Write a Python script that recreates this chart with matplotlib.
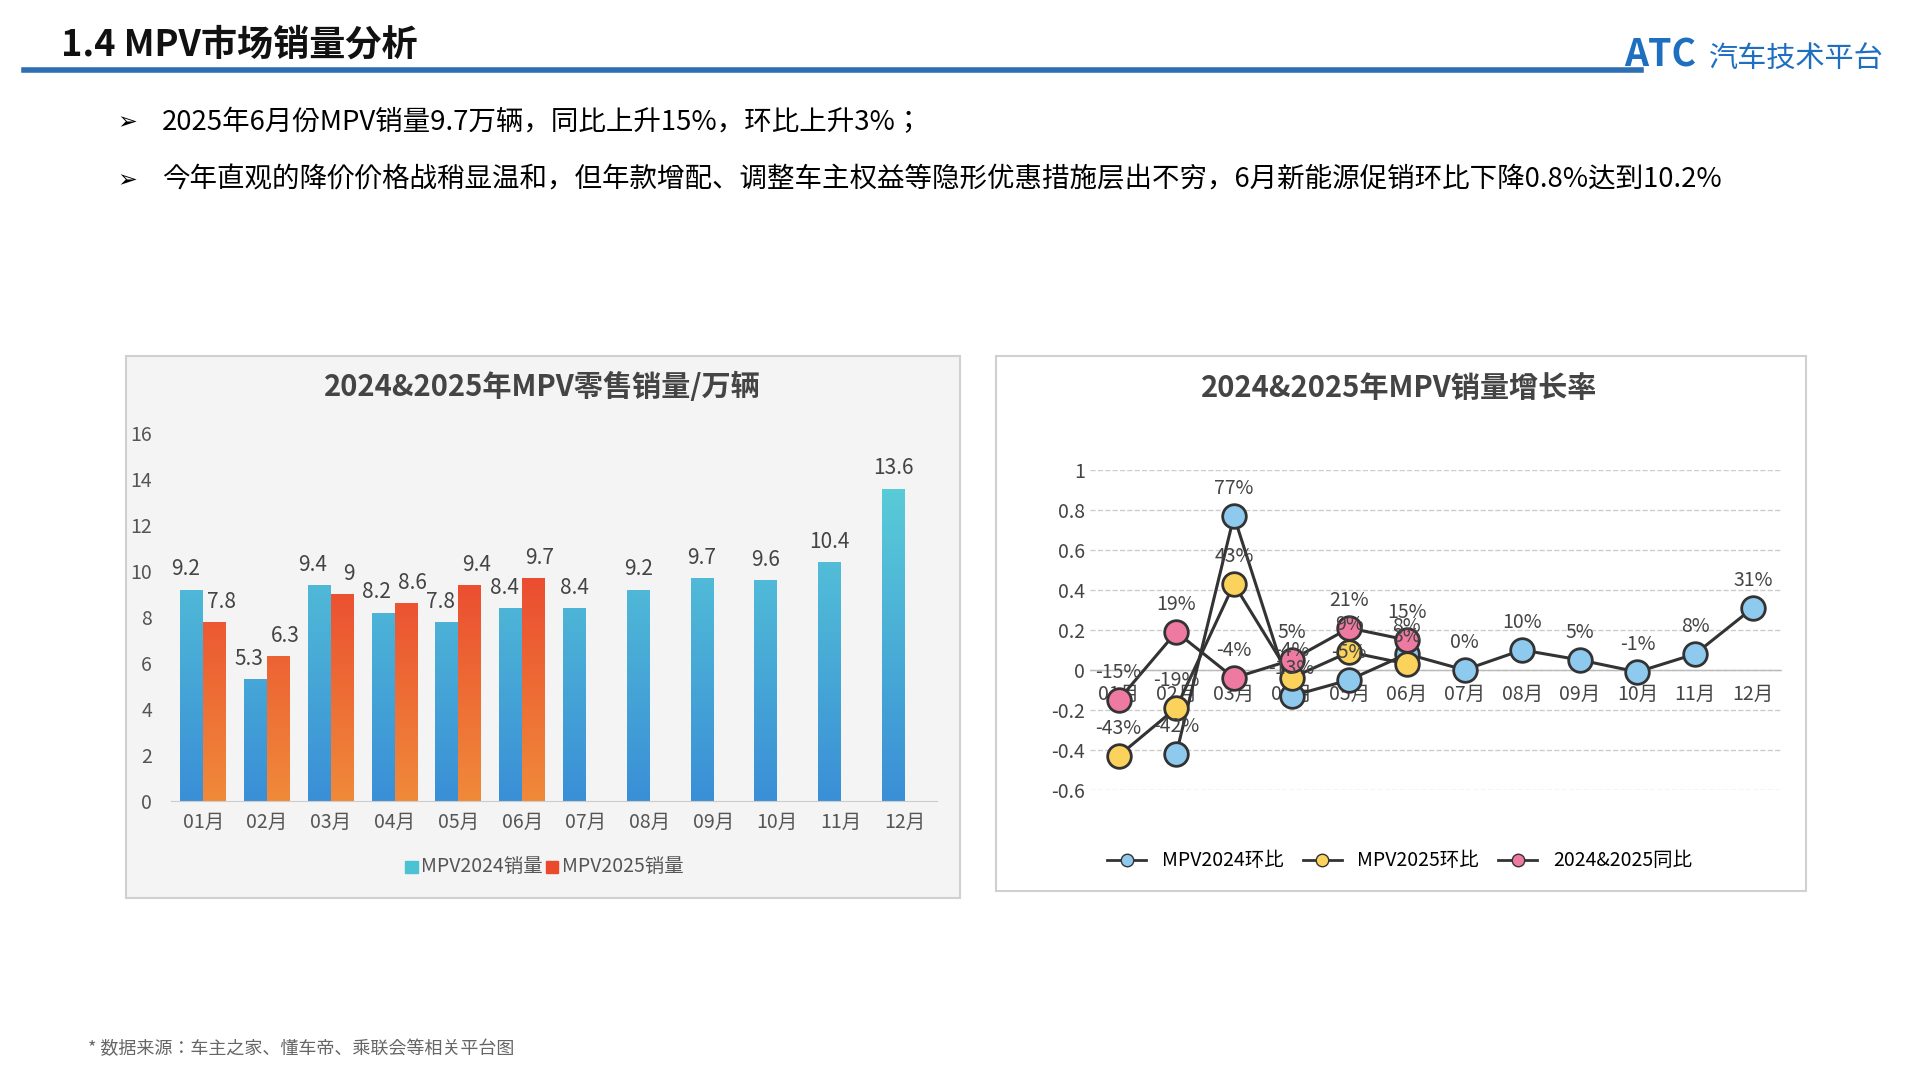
import matplotlib
matplotlib.use("Agg")
import matplotlib.pyplot as plt
from matplotlib import font_manager as fm
import numpy as np
from matplotlib.patches import Rectangle
from matplotlib.lines import Line2D

names = {f.name for f in fm.fontManager.ttflist}
cjk = [n for n in ['Noto Sans CJK SC', 'Noto Sans CJK JP', 'Noto Sans CJK TC', 'Noto Sans SC', 'WenQuanYi Zen Hei'] if n in names]
if not cjk:
    import glob
    for p in glob.glob('/usr/share/fonts/**/*CJK*', recursive=True):
        try:
            fm.fontManager.addfont(p)
        except Exception:
            pass
    names = {f.name for f in fm.fontManager.ttflist}
    cjk = [n for n in names if 'CJK' in n]
plt.rcParams['font.family'] = cjk + ['DejaVu Sans']

months = ['01月','02月','03月','04月','05月','06月','07月','08月','09月','10月','11月','12月']
sales_2024 = [9.2,5.3,9.4,8.2,7.8,8.4,8.4,9.2,9.7,9.6,10.4,13.6]
sales_2025 = [7.8,6.3,9.0,8.6,9.4,9.7]
mom_2024 = [None,-0.42,0.77,-0.13,-0.05,0.08,0.00,0.10,0.05,-0.01,0.08,0.31]
mom_2025 = [-0.43,-0.19,0.43,-0.04,0.09,0.03]
yoy = [-0.15,0.19,-0.04,0.05,0.21,0.15]

W, H = 1568, 882
fig = plt.figure(figsize=(19.2,10.8), dpi=100)
def fx(x): return x/W
def fy(y): return 1-y/H

# header
fig.text(fx(50), fy(37), '1.4 MPV市场销量分析', fontsize=26, fontweight='bold', va='center', color='#111')
fig.add_artist(Line2D([fx(20), fx(1340)], [fy(57), fy(57)], color='#2e6fb3', lw=4))
fig.text(fx(1326), fy(45), 'ATC', fontsize=27, fontweight='bold', fontstyle='italic', color='#1f6fc0', va='center')
fig.text(fx(1396), fy(48), '汽车技术平台', fontsize=21, color='#1f6fc0', va='center')
fig.text(fx(96), fy(100), '➢', fontsize=17, va='center', family='DejaVu Sans')
fig.text(fx(132), fy(100), '2025年6月份MPV销量9.7万辆，同比上升15%，环比上升3%；', fontsize=19.8, va='center')
fig.text(fx(96), fy(147), '➢', fontsize=17, va='center', family='DejaVu Sans')
fig.text(fx(132), fy(147), '今年直观的降价价格战稍显温和，但年款增配、调整车主权益等隐形优惠措施层出不穷，6月新能源促销环比下降0.8%达到10.2%', fontsize=19.8, va='center')
fig.text(fx(72), fy(857), '* 数据来源：车主之家、懂车帝、乘联会等相关平台图', fontsize=13, color='#666', va='center')

# panels
fig.add_artist(Rectangle((fx(103), fy(733)), fx(784-103), fy(291)-fy(733), facecolor='#f4f4f4', edgecolor='#d0d0d0', lw=1.5, transform=fig.transFigure, zorder=0))
fig.add_artist(Rectangle((fx(813), fy(728)), fx(1475-813), fy(291)-fy(728), facecolor='white', edgecolor='#d0d0d0', lw=1.5, transform=fig.transFigure, zorder=0))

# bar chart
ax = fig.add_axes([fx(140), fy(654), fx(765-140), fy(354)-fy(654)])
ax.set_facecolor('none')
x = np.arange(len(months))
bw = 0.36
def grad_bars(xs, vals, top, bot):
    cmap = matplotlib.colors.LinearSegmentedColormap.from_list('g', [bot, top])
    bars = ax.bar(xs, vals, bw, color='none')
    grad = np.linspace(0, 1, 256).reshape(-1, 1)
    for b in bars:
        xx = b.get_x()
        im = ax.imshow(grad, extent=[xx, xx+bw, 0, 16], origin='lower', aspect='auto', cmap=cmap, zorder=2)
        im.set_clip_path(b)
    return bars
grad_bars(x-bw/2, sales_2024, '#5fd6d8', '#3a8fd6')
grad_bars(x[:6]+bw/2, sales_2025, '#e8252a', '#f08a3a')
for i, v in enumerate(sales_2024):
    ax.text(i-bw/2 - (0.1 if i < 6 else 0), v+0.4, f'{v:g}', ha='center', va='bottom', fontsize=15, color='#444')
for i, v in enumerate(sales_2025):
    ax.text(i+bw/2+0.1, v+0.4, f'{v:g}', ha='center', va='bottom', fontsize=15, color='#444')
ax.set_xlim(-0.5, 11.5); ax.set_ylim(0, 16)
ax.set_yticks(range(0, 17, 2))
ax.set_xticks(x); ax.set_xticklabels(months)
ax.tick_params(length=0, labelsize=14, colors='#555')
ax.tick_params(axis='y', pad=14)
ax.tick_params(axis='x', pad=8)
for s in ['top','right','left']: ax.spines[s].set_visible(False)
ax.spines['bottom'].set_color('#ccc')
fig.text(fx(443), fy(316), '2024&2025年MPV零售销量/万辆', fontsize=21, fontweight='bold', ha='center', va='center', color='#444')
fig.add_artist(Rectangle((fx(331), fy(713)), fx(10), fy(703)-fy(713), color='#4cc3d4', transform=fig.transFigure))
fig.text(fx(344), fy(708), 'MPV2024销量', fontsize=14, va='center', color='#555')
fig.add_artist(Rectangle((fx(446), fy(713)), fx(10), fy(703)-fy(713), color='#ea4a2a', transform=fig.transFigure))
fig.text(fx(459), fy(708), 'MPV2025销量', fontsize=14, va='center', color='#555')

# line chart
ax2 = fig.add_axes([fx(890), fy(645), fx(1455-890), fy(384)-fy(645)])
ax2.set_facecolor('none')
ax2.set_xlim(-0.5, 11.5); ax2.set_ylim(-0.6, 1)
ax2.set_yticks([-0.6,-0.4,-0.2,0,0.2,0.4,0.6,0.8,1])
ax2.set_yticklabels(['-0.6','-0.4','-0.2','0','0.2','0.4','0.6','0.8','1'])
ax2.grid(axis='y', ls='--', color='#ccc', lw=1)
ax2.axhline(0, color='#bbb', lw=1)
ax2.tick_params(length=0, labelsize=14, colors='#444')
ax2.set_xticks([])
for s in ax2.spines.values(): s.set_visible(False)
for i, m in enumerate(months):
    ax2.text(i, -0.12, m, ha='center', va='center', fontsize=14, color='#444')
series = [(mom_2024, '#8ec9ee'), (mom_2025, '#fbd25b'), (yoy, '#ef7aa1')]
for vals, c in series:
    xs = [i for i, v in enumerate(vals) if v is not None]
    ys = [v for v in vals if v is not None]
    ax2.plot(xs, ys, color='#333', lw=2.2, marker='o', ms=17, mfc=c, mec='#333', mew=2, zorder=3)
    for xi, yi in zip(xs, ys):
        ax2.text(xi, yi+0.085, f'{round(yi*100):d}%', ha='center', va='bottom', fontsize=14, color='#444', zorder=4)
fig.text(fx(1143), fy(317), '2024&2025年MPV销量增长率', fontsize=21, fontweight='bold', ha='center', va='center', color='#444')
handles = [Line2D([], [], color='#333', lw=2, marker='o', ms=9, mfc=c, mec='#333') for _, c in series]
fig.legend(handles, ['MPV2024环比', 'MPV2025环比', '2024&2025同比'], loc='center', bbox_to_anchor=(fx(1143), fy(703)),
           ncol=3, frameon=False, fontsize=14, handlelength=2, columnspacing=1)

fig.savefig('out.png', dpi=100)
